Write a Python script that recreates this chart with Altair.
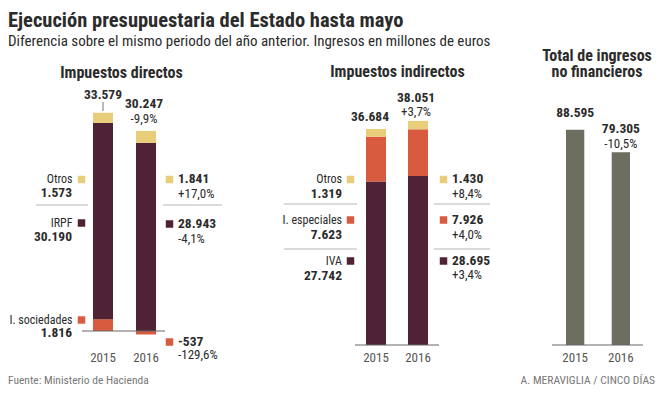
import altair as alt
import pandas as pd

FONT = "Liberation Sans Narrow, Roboto Condensed, DejaVu Sans Condensed, Arial Narrow, Liberation Sans, sans-serif"
YELLOW, ORANGE, MAROON, GRAY = "#e8cd7b", "#d95b3f", "#4f2335", "#6d6d60"
TXT = "#2b2b2b"

# ---------------- data ----------------
years = ["2015", "2016"]

dir_keys = ["soc", "irpf", "otros"]
dir_names = ["I. sociedades", "IRPF", "Otros"]
dir_2015 = [1816, 30190, 1573]
dir_2016 = [-537, 28943, 1841]
dir_pct = ["-129,6%", "-4,1%", "+17,0%"]
dir_totals = [33579, 30247]
dir_total_pct = "-9,9%"

ind_keys = ["iva", "esp", "otros"]
ind_names = ["IVA", "I. especiales", "Otros"]
ind_2015 = [27742, 7623, 1319]
ind_2016 = [28695, 7926, 1430]
ind_pct = ["+3,4%", "+4,0%", "+8,4%"]
ind_totals = [36684, 38051]
ind_total_pct = "+3,7%"

tot_values = [88595, 79305]
tot_pct = "-10,5%"


def fmt(v):
    return f"{v:,}".replace(",", ".")


cscale = alt.Scale(domain=["soc", "irpf", "otros", "iva", "esp", "total"],
                   range=[ORANGE, MAROON, YELLOW, MAROON, ORANGE, GRAY])
PX = alt.Scale(domain=[0, 648], range=[0, 648], nice=False, zero=False)
PY = alt.Scale(domain=[0, 378], range=[0, 378], nice=False, zero=False)


def stack_df(keys, v15, v16):
    rows = []
    for i, k in enumerate(keys):
        rows.append({"year": "2015", "key": k, "value": v15[i], "ord": i})
        rows.append({"year": "2016", "key": k, "value": v16[i], "ord": i})
    return pd.DataFrame(rows)


def text_layer(df, size=13, bold=False, align="left", color=TXT):
    return alt.Chart(df).mark_text(
        font=FONT, fontSize=size, fontWeight="bold" if bold else "normal",
        align=align, baseline="alphabetic", color=color
    ).encode(x=alt.X("px:Q", scale=PX, axis=None),
             y=alt.Y("py:Q", scale=PY, axis=None), text="t:N")


def panel(df, tops, labels, xrange, pinner, yrange, ydomain, rule_x):
    xs = alt.Scale(type="band", domain=years, range=xrange,
                   paddingInner=pinner, paddingOuter=0)
    ys = alt.Scale(domain=ydomain, range=yrange, nice=False, zero=False)
    X = alt.X("year:N", scale=xs, axis=None)
    bars = alt.Chart(df).mark_bar().encode(
        x=X,
        y=alt.Y("value:Q", scale=ys, axis=None, stack="zero"),
        color=alt.Color("key:N", scale=cscale, legend=None),
        order=alt.Order("ord:Q"),
    )
    base = alt.Chart(pd.DataFrame({"z": [0]})).mark_rule(color="#666", strokeWidth=1).encode(
        x=alt.value(rule_x[0]), x2=alt.value(rule_x[1]),
        y=alt.Y("z:Q", scale=ys, axis=None)
    )
    yrs = alt.Chart(pd.DataFrame({"year": years})).mark_text(
        font=FONT, fontSize=13, color="#555", baseline="alphabetic"
    ).encode(x=X, y=alt.value(354), text="year:N")
    layers = [bars, base, yrs]
    topdf = pd.DataFrame({"year": years, "top": tops})
    for (yr, txt, dy, dx, bold) in labels:
        layers.append(
            alt.Chart(topdf).transform_filter(alt.datum.year == yr).mark_text(
                font=FONT, fontSize=13.5 if bold else 13,
                fontWeight="bold" if bold else "normal",
                color=TXT, baseline="alphabetic", dy=dy, dx=dx
            ).encode(x=X, y=alt.Y("top:Q", scale=ys, axis=None), text=alt.value(txt))
        )
    return layers


def pos_top(v15, v16):
    return [sum(v for v in v15 if v > 0), sum(v for v in v16 if v > 0)]


# ---------------- panels ----------------
p1 = panel(
    stack_df(dir_keys, dir_2015, dir_2016), pos_top(dir_2015, dir_2016),
    [("2015", fmt(dir_totals[0]), -14, 0, True),
     ("2016", fmt(dir_totals[1]), -23, -2, True),
     ("2016", dir_total_pct, -8, -2, False)],
    [85, 148], 0.535, [323, 63], [0, 40000], (74, 157),
)
p2 = panel(
    stack_df(ind_keys, ind_2015, ind_2016), pos_top(ind_2015, ind_2016),
    [("2015", fmt(ind_totals[0]), -8, -6, True),
     ("2016", fmt(ind_totals[1]), -19, -2, True),
     ("2016", ind_total_pct, -5, -2, False)],
    [358, 420], 0.524, [337, 101.4], [0, 40000], (347, 431),
)
tot_df = pd.DataFrame({"year": years, "key": ["total", "total"], "value": tot_values, "ord": [0, 0]})
p3 = panel(
    tot_df, tot_values,
    [("2015", fmt(tot_values[0]), -13, 0, True),
     ("2016", fmt(tot_values[1]), -19, 0, True),
     ("2016", tot_pct, -4, 0, False)],
    [558, 622], 0.6, [337, 94], [0, 100000], (544, 635),
)

# ---------------- annotations (layout) ----------------
left_names = pd.DataFrame({
    "t": ["Otros", "IRPF", "I. sociedades", "Otros", "I. especiales", "IVA"],
    "px": [64.5, 64.5, 64.5, 334, 334, 334],
    "py": [174.5, 218.5, 315.5, 174.5, 215.5, 256.5],
})
left_vals = pd.DataFrame({
    "t": [fmt(dir_2015[2]), fmt(dir_2015[1]), fmt(dir_2015[0]),
          fmt(ind_2015[2]), fmt(ind_2015[1]), fmt(ind_2015[0])],
    "px": [64, 64, 64, 334, 334, 334],
    "py": [188.5, 232.5, 329, 189.5, 230.5, 271.5],
})
right_vals = pd.DataFrame({
    "t": [fmt(dir_2016[2]), fmt(dir_2016[1]), fmt(dir_2016[0]),
          fmt(ind_2016[2]), fmt(ind_2016[1]), fmt(ind_2016[0])],
    "px": [170, 170, 170, 444, 444, 444],
    "py": [175, 220, 338, 175, 216, 257],
})
right_pcts = pd.DataFrame({
    "t": [dir_pct[2], dir_pct[1], dir_pct[0], ind_pct[2], ind_pct[1], ind_pct[0]],
    "px": [170, 170, 170, 444, 444, 444],
    "py": [189.5, 234.5, 351, 190, 230.5, 270.5],
})
squares = pd.DataFrame({
    "key": ["otros", "irpf", "soc", "otros", "irpf", "soc",
            "otros", "esp", "iva", "otros", "esp", "iva"],
    "px": [73.5, 73.5, 73.5, 161.5, 161.5, 161.5,
           342.5, 342.5, 342.5, 435.5, 435.5, 435.5],
    "py": [171.5, 215, 312, 171.5, 216, 334,
           171.5, 212, 253, 171.5, 212, 253],
})
seps = pd.DataFrame({
    "x1": [28, 155, 276, 276, 426, 426],
    "x2": [80, 214, 349, 349, 482, 482],
    "y": [197, 197, 196, 241, 196, 241],
})
titles = pd.DataFrame({
    "t": ["Impuestos directos", "Impuestos indirectos", "Total de ingresos", "no financieros"],
    "px": [113.5, 389.5, 589, 589],
    "py": [70, 69, 53, 69],
})

sq = alt.Chart(squares).mark_square(size=56, opacity=1).encode(
    x=alt.X("px:Q", scale=PX, axis=None), y=alt.Y("py:Q", scale=PY, axis=None),
    color=alt.Color("key:N", scale=cscale, legend=None))
sep = alt.Chart(seps).mark_rule(color="#b5b5b5", strokeWidth=1).encode(
    x=alt.X("x1:Q", scale=PX, axis=None), x2="x2:Q", y=alt.Y("y:Q", scale=PY, axis=None))
tick = alt.Chart(pd.DataFrame({"z": [0]})).mark_rule(color="#777").encode(
    x=alt.value(95), y=alt.value(94), y2=alt.value(103))

head = pd.DataFrame({"t": ["Ejecución presupuestaria del Estado hasta mayo"], "px": [0], "py": [19]})
sub = pd.DataFrame({"t": ["Diferencia sobre el mismo periodo del año anterior. Ingresos en millones de euros"],
                    "px": [0], "py": [38]})
foot_l = pd.DataFrame({"t": ["Fuente: Ministerio de Hacienda"], "px": [0], "py": [376]})
foot_r = pd.DataFrame({"t": ["A. MERAVIGLIA / CINCO DÍAS"], "px": [647], "py": [376]})

chart = alt.layer(
    *p1, *p2, *p3,
    sep, sq, tick,
    text_layer(left_names, size=12, align="right"),
    text_layer(left_vals, size=13.5, bold=True, align="right"),
    text_layer(right_vals, size=13.5, bold=True),
    text_layer(right_pcts, size=13),
    text_layer(titles, size=16, bold=True, align="center"),
    text_layer(head, size=20.5, bold=True),
    text_layer(sub, size=15),
    text_layer(foot_l, size=11.5, color="#777"),
    text_layer(foot_r, size=11.5, color="#777", align="right"),
).resolve_scale(x="independent", y="independent").properties(
    width=648, height=378, autosize="none", padding=0
).configure_view(stroke=None)

chart.save("out.html", embed_options={"renderer": "svg", "actions": False})
